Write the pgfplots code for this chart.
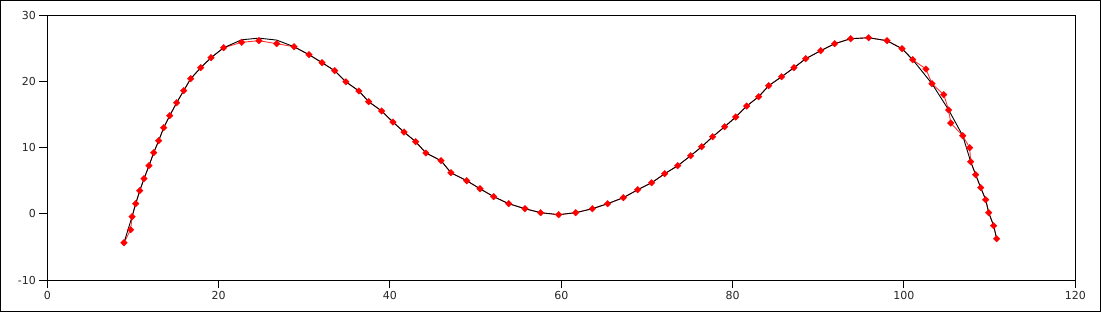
\documentclass[border=0pt]{standalone}
\usepackage{fontspec}
\setmainfont{DejaVu Sans}
\usepackage{pgfplots}
\usepackage{pgfplotstable}
\pgfplotsset{compat=1.18}
\pgfplotstableread{
x y
8.95 -4.37
9.73 -2.40
9.89 -0.44
10.32 1.53
10.79 3.49
11.29 5.31
11.87 7.27
12.42 9.24
13.00 11.05
13.59 13.01
14.29 14.83
15.10 16.79
15.92 18.61
16.74 20.42
17.91 22.08
19.11 23.59
20.59 25.10
22.69 25.92
24.71 26.16
26.78 25.71
28.80 25.25
30.55 24.05
32.07 22.84
33.55 21.63
34.85 19.95
36.38 18.56
37.52 16.94
39.03 15.54
40.35 13.87
41.64 12.36
43.00 10.90
44.20 9.19
45.96 8.03
47.12 6.21
48.96 5.00
50.51 3.79
52.11 2.59
53.86 1.53
55.76 0.77
57.59 0.17
59.69 -0.13
61.68 0.17
63.62 0.77
65.41 1.53
67.24 2.44
68.92 3.64
70.55 4.70
72.07 6.06
73.59 7.27
75.10 8.78
76.39 10.14
77.67 11.65
79.07 13.16
80.36 14.63
81.64 16.29
83.04 17.70
84.21 19.36
85.72 20.72
87.16 22.08
88.53 23.44
90.28 24.65
91.91 25.71
93.78 26.46
95.88 26.61
98.02 26.16
99.77 24.95
101.02 23.29
102.57 21.88
103.27 19.66
104.64 18.00
105.22 15.69
105.46 13.72
106.86 11.80
107.67 9.99
107.79 7.87
108.37 5.91
108.96 3.95
109.54 2.13
109.89 0.17
110.47 -1.80
110.82 -3.76
}\reddata
\pgfplotstableread{
x y
8.95 -4.37
9.89 -0.44
10.32 1.53
10.79 3.49
11.29 5.31
11.87 7.27
12.42 9.24
13.00 11.05
13.59 13.01
14.29 14.83
15.10 16.79
15.92 18.61
16.74 20.42
17.91 22.08
19.11 23.59
20.59 25.10
22.69 26.30
24.71 26.55
26.78 26.25
28.80 25.25
30.55 24.05
32.07 22.84
33.55 21.63
34.85 19.95
36.38 18.56
37.52 16.94
39.03 15.54
40.35 13.87
41.64 12.36
43.00 10.90
44.20 9.19
45.96 8.03
47.12 6.21
48.96 5.00
50.51 3.79
52.11 2.59
53.86 1.53
55.76 0.77
57.59 0.17
59.69 -0.13
61.68 0.17
63.62 0.77
65.41 1.53
67.24 2.44
68.92 3.64
70.55 4.70
72.07 6.06
73.59 7.27
75.10 8.78
76.39 10.14
77.67 11.65
79.07 13.16
80.36 14.63
81.64 16.29
83.04 17.70
84.21 19.36
85.72 20.72
87.16 22.08
88.53 23.44
90.28 24.65
91.91 25.71
93.78 26.46
95.88 26.61
98.02 26.16
99.77 24.95
101.02 23.29
103.27 19.66
105.22 15.69
106.86 11.80
107.79 7.87
108.37 5.91
108.96 3.95
109.54 2.13
109.89 0.17
110.47 -1.80
110.82 -3.76
}\blackdata
\begin{document}
\begin{tikzpicture}
\useasboundingbox (0,0) rectangle (1101bp,312bp);
\draw[line width=1bp] (0.5bp,0.5bp) rectangle (1100.5bp,311.5bp);
\begin{axis}[at={(47.3bp,32bp)}, anchor=south west, scale only axis,
  width=1028bp, height=264.7bp,
  xmin=0, xmax=120, ymin=-10, ymax=30,
  xtick={0,20,...,120}, ytick={-10,0,...,30},
  tick align=outside, xtick pos=left, ytick pos=left,
  major tick length=8bp,
  axis line style={line width=1bp},
  every tick/.style={line width=1bp, black},
  ticklabel style={font=\fontsize{11bp}{13bp}\selectfont, text=black!85},
  /pgf/number format/assume math mode=true,
  clip=false]
\addplot[red!80, line width=0.9bp, no marks] table[x=x,y=y] {\reddata};
\addplot[black, line width=0.9bp, no marks] table[x=x,y=y] {\blackdata};
\addplot[only marks, mark=square*, mark size=2.3bp,
  mark options={red, draw=red, fill=red, rotate=45, line width=0.4bp}] table[x=x,y=y] {\reddata};
\end{axis}
\end{tikzpicture}
\end{document}
